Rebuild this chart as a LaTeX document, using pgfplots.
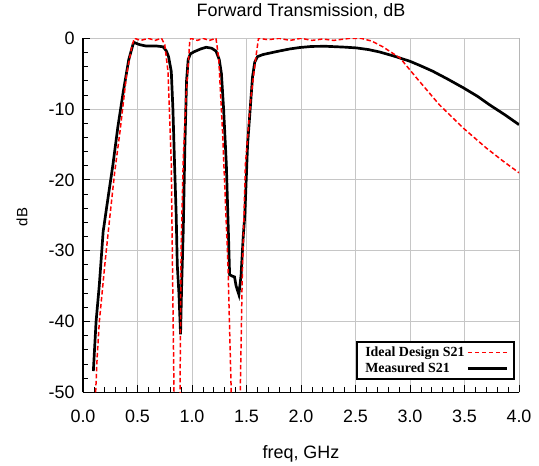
\documentclass[border=0pt]{standalone}
\usepackage{fontspec}
\setmainfont{Liberation Sans}
\newfontfamily\legfont{Liberation Serif}
\usepackage{pgfplots}
\pgfplotsset{compat=1.18}
\begin{document}
\begin{tikzpicture}
\begin{axis}[
  scale only axis, width=436bp, height=354bp,
  xmin=0, xmax=4, ymin=-50, ymax=0,
  xtick={0,0.5,...,4}, ytick={-50,-40,...,0},
  minor x tick num=4, minor y tick num=4,
  xticklabel style={/pgf/number format/fixed,/pgf/number format/fixed zerofill,/pgf/number format/precision=1, anchor=base, yshift=-30bp},
  yticklabel style={anchor=east, xshift=-5bp},
  /pgf/number format/assume math mode=true,
  tick label style={font=\fontsize{18}{20}\selectfont},
  title style={font=\fontsize{18}{20}\selectfont, at={(0.5,1)}, anchor=base, yshift=16bp},
  title={Forward Transmission, dB},
  xlabel={freq, GHz}, ylabel={dB},
  xlabel style={font=\fontsize{18}{20}\selectfont, at={(axis description cs:0.5,0)}, anchor=base, yshift=-66bp},
  ylabel style={font=\fontsize{15}{17}\selectfont, at={(axis description cs:-0.14,0.495)}, anchor=center},
  axis x line*=bottom, axis y line*=left,
  axis line style={black, line width=1.1pt, -},
  tick align=inside, major tick length=7bp, minor tick length=5bp,
  tick style={black, line width=0.8pt},
  grid=major, major grid style={gray!45, line width=0.9pt},
  clip=true,
  reverse legend,
  legend plot pos=right,
  legend cell align=left,
  legend image code/.code={\draw[#1] (0bp,0bp) -- (39bp,0bp);},
  legend style={at={(0.991,0.034)}, anchor=south east, draw=black, line width=1.8pt,
    font=\legfont\bfseries\fontsize{14}{16}\selectfont, inner xsep=6bp, inner ysep=3bp,
    row sep=1bp},
]
\addplot[black, line width=2.7pt] coordinates {
(0.095,-47)(0.12,-40)(0.15,-34.8)(0.185,-27.3)(0.23,-22.5)(0.275,-17.8)(0.32,-12.5)(0.37,-7.5)(0.42,-3)(0.46,-0.8)(0.47,-0.6)(0.52,-0.9)(0.58,-1.1)(0.68,-1.1)(0.735,-1.2)(0.765,-1.8)(0.785,-2.6)(0.81,-4.7)(0.825,-10)(0.84,-17.8)(0.855,-25)(0.865,-32)(0.88,-36)(0.895,-41.8)(0.905,-35)(0.92,-27)(0.935,-15)(0.95,-6)(0.965,-3)(0.985,-2.2)(1.02,-1.9)(1.08,-1.5)(1.13,-1.27)(1.18,-1.4)(1.22,-1.8)(1.25,-3)(1.27,-5)(1.29,-10)(1.315,-17.8)(1.335,-28)(1.345,-33.4)(1.37,-33.6)(1.39,-33.7)(1.405,-35)(1.43,-36.2)(1.45,-33.5)(1.47,-28)(1.485,-24.9)(1.51,-15)(1.53,-10.8)(1.555,-5.5)(1.575,-3.4)(1.6,-2.6)(1.65,-2.3)(1.71,-2.1)(1.8,-1.8)(1.9,-1.5)(1.99,-1.3)(2.1,-1.15)(2.23,-1.13)(2.4,-1.25)(2.51,-1.36)(2.62,-1.6)(2.72,-1.93)(2.85,-2.5)(3.0,-3.25)(3.1,-3.9)(3.21,-4.66)(3.35,-5.8)(3.49,-7.0)(3.62,-8.2)(3.73,-9.4)(3.87,-10.8)(4.0,-12.2)
};
\addlegendentry{Measured S21}
\addplot[red, line width=1.5pt, dash pattern=on 4.5bp off 2.5bp] coordinates {
(0.116,-50)(0.13,-45)(0.15,-40)(0.2,-32)(0.245,-25.4)(0.29,-19)(0.34,-13.1)(0.40,-5.1)(0.445,-1.4)(0.47,0)(0.53,-0.3)(0.6,0)(0.66,-0.3)(0.72,0)(0.75,-0.9)(0.78,-4.7)(0.81,-17.8)(0.835,-50)(0.85,-70)(0.875,-70)(0.89,-50)(0.90,-29.6)(0.92,-17)(0.945,-8.4)(0.98,-0.3)(0.99,0)(1.05,-0.3)(1.1,0)(1.16,-0.3)(1.22,0)(1.245,-2.8)(1.28,-13.1)(1.33,-32)(1.36,-50)(1.38,-70)(1.42,-70)(1.443,-50)(1.46,-34.3)(1.49,-17.8)(1.54,-8.4)(1.585,-2.8)(1.61,0)(1.7,-0.2)(1.8,0)(1.9,-0.3)(2.0,0)(2.1,-0.3)(2.2,-0.1)(2.3,-0.3)(2.45,0)(2.55,0)(2.65,-0.4)(2.75,-1.2)(2.91,-2.8)(3.06,-5.6)(3.27,-9.4)(3.49,-12.7)(3.70,-15.5)(3.85,-17.3)(4.0,-19.0)
};
\addlegendentry{Ideal Design S21}
\draw[gray!60!black, line width=1pt] (rel axis cs:1,0) -- (rel axis cs:1,1);
\end{axis}
\path[use as bounding box] (current axis.south west) ++(-83bp,-73bp) rectangle ([shift={(20bp,37bp)}]current axis.north east);
\end{tikzpicture}
\end{document}
